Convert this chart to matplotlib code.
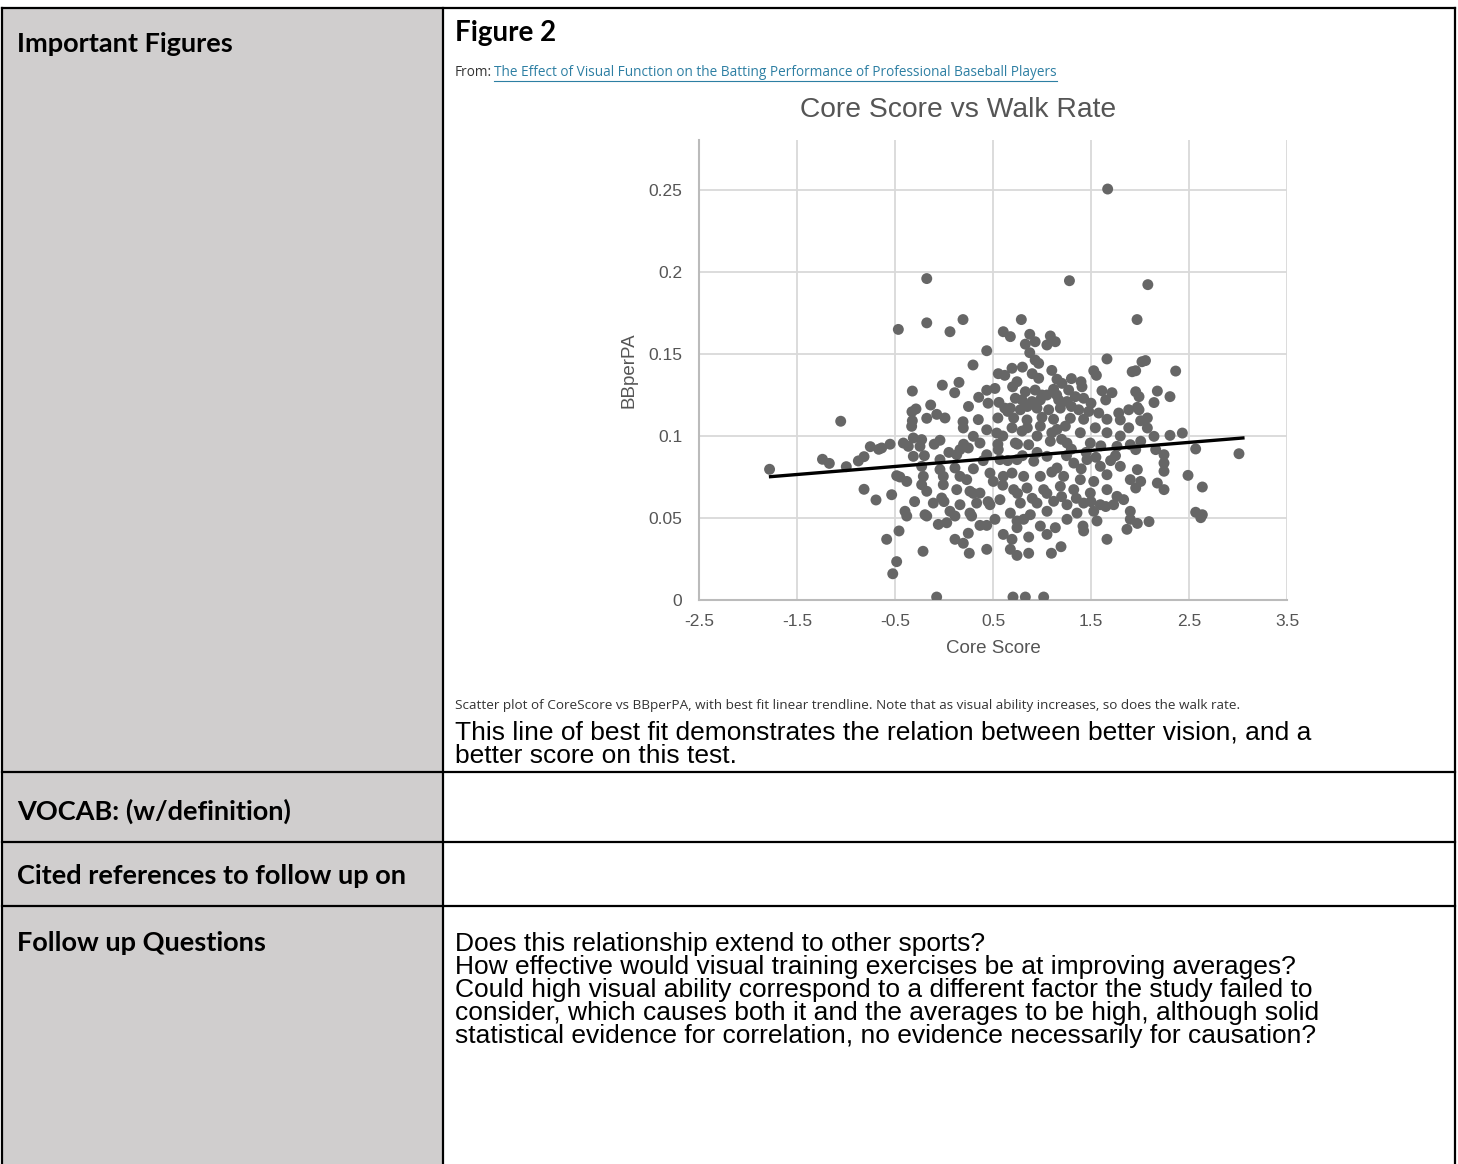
import numpy as np
import matplotlib
matplotlib.use("Agg")
import matplotlib.pyplot as plt
from matplotlib.patches import Rectangle

# scatter points (core score, walks per PA)
core_score = [
    -1.78, -1.054, -1.24, -1.17, -0.997, -0.874, -0.816, -0.752, -0.666, -0.816, -0.694,
    1.67, -0.176, 1.28, 2.08, -0.176, 0.194, 0.789, 1.97, -0.466, 0.061, 0.605,
    0.436, 0.296, 0.554, 0.62, 0.153, -0.017, -0.323, 0.109, 0.436, 0.52, 0.354, 0.561,
    -0.136, -0.286, -0.327, -0.074, -0.176, 0.01, -0.323, 0.62, 0.55, 0.194,
    0.677, 0.875, 1.085, 1.136, 0.83, 0.93, 1.05, 0.875, 0.93, 0.966, 1.663, 0.694,
    1.528, 1.555, 1.92, 0.745, 0.966, 1.153, 1.204, 1.398, 1.408, 1.612, 1.714, 0.83,
    0.93, 1.05, 1.118, 1.272, 1.34, 1.425, 0.728, 0.796, 0.898, 0.983, 1.17, 1.255,
    0.677, 0.779, 0.949, 1.068, 1.187, 1.375, 1.477, 1.579, 1.783, 1.885, 0.711, 0.847,
    1.0, 1.118, 1.289, 1.425, 1.663, 1.799,
    2.02, 2.056, 2.364, 1.956, 1.956, 2.177, 2.306, 1.99, 2.143, 1.973, 1.99, 2.075, 2.007,
    -0.636, -0.415, -0.313, -0.228, -0.245, -0.364, -0.041, -0.313, -0.041, -0.33, 0.163,
    0.13, 0.248, 0.197, 0.299, 0.367, 0.436, 0.538, 0.554, 0.571, 0.436, -0.483, -0.38,
    -0.228, -0.211, -0.228, -0.176, -0.041, -0.007, -0.007, 0.112, 0.163, 0.232, 0.13,
    0.265, 0.367, 0.469, 0.503, 0.605, -0.534, -0.109, -0.024, 0.061, 0.163, 0.333,
    0.469, 0.571, -0.398, -0.194, 0.265,
    0.694, 0.796, 0.983, 1.153, 1.238, 1.391, 1.544, 1.663, 1.799, 1.885, 0.728, 0.864,
    1.085, 1.255, 1.493, 1.765, 1.901, 0.745, 0.916, 1.051, 1.153, 1.324, 1.459, 1.595,
    1.663, 1.799, 1.901, 0.694, 0.813, 0.983, 1.221, 1.391, 1.528, 0.711, 0.847, 1.017,
    1.187, 1.324, 1.493, 1.663, 1.765, 0.779, 0.949, 1.119, 1.255, 1.425, 1.595, 1.731,
    1.833, 0.677, 0.881, 1.051, 1.357, 1.528, 1.901,
    2.075, 2.143, 2.306, 2.432, 2.007, 1.956, 2.16, 2.245, 2.245, 2.245, 2.568, 3.01,
    1.973, 2.007, 2.177, 2.245, 2.49, 2.636, 1.956, 2.568, 2.636,
    -0.38, -0.176, -0.058, 0.028, 0.112, 0.282, 0.367, 0.436, 0.52, 0.605, -0.459,
    -0.585, 0.248, 0.112, 0.197, -0.214, 0.258, 0.436, -0.483, -0.523, -0.075,
    0.745, 0.813, 0.745, 0.983, 1.051, 1.136, 1.255, 1.418, 1.425, 1.561, 1.663, 1.867,
    1.901, 0.694, 0.864, 0.677, 0.745, 0.864, 1.096, 1.194, 0.704, 0.83, 1.017,
    1.973, 2.092, 2.62,
    # dense middle of the cloud
    0.6, 0.75, 0.85, 0.95, 1.1, 1.2, 1.3, 1.45, 1.6, 1.75, 0.65, 0.8, 0.95, 1.1,
    1.25, 1.4, 1.55, 1.7, 0.6, 0.75, 0.9, 1.05, 1.2, 1.35, 1.5, 1.65, 0.65, 0.85,
    1.0, 1.15, 1.3, 1.5, 1.65, 0.7, 0.9, 1.1, 1.3, 0.8, 0.55, 0.4, 0.3, 0.2, 0.05,
    -0.1, -0.2, 0.35, 0.25, 0.45, 0.3, 0.45, 0.0, -0.3, -0.45, -0.55,
]
bb_per_pa = [
    0.0797, 0.109, 0.0858, 0.0833, 0.0813, 0.0848, 0.0874, 0.0935, 0.0919, 0.0675, 0.061,
    0.2506, 0.196, 0.1947, 0.1923, 0.169, 0.171, 0.171, 0.171, 0.165, 0.1636, 0.1636,
    0.152, 0.1433, 0.138, 0.137, 0.1327, 0.131, 0.1274, 0.1264, 0.1279, 0.129, 0.1236, 0.1205,
    0.1189, 0.1165, 0.1148, 0.1132, 0.1108, 0.111, 0.1093, 0.117, 0.111, 0.1087,
    0.1606, 0.162, 0.161, 0.1575, 0.156, 0.1575, 0.1555, 0.1508, 0.1463, 0.1443, 0.147, 0.1413,
    0.1398, 0.137, 0.1392, 0.1331, 0.1352, 0.1346, 0.1321, 0.1331, 0.13, 0.1276, 0.1264, 0.127,
    0.128, 0.125, 0.1285, 0.128, 0.124, 0.123, 0.123, 0.122, 0.121, 0.122, 0.122, 0.121,
    0.117, 0.116, 0.117, 0.116, 0.117, 0.116, 0.115, 0.114, 0.114, 0.116, 0.111, 0.1098,
    0.1114, 0.1102, 0.1108, 0.1102, 0.1102, 0.1098,
    0.1453, 0.146, 0.1396, 0.1398, 0.127, 0.1274, 0.124, 0.124, 0.1204, 0.1175, 0.116, 0.111, 0.1093,
    0.0927, 0.0957, 0.0988, 0.0978, 0.0937, 0.0937, 0.0974, 0.0876, 0.0856, 0.1059, 0.0917,
    0.0886, 0.0927, 0.1049, 0.0998, 0.0957, 0.1038, 0.1018, 0.0917, 0.0856, 0.0886, 0.0758, 0.0723,
    0.0815, 0.0754, 0.0703, 0.0663, 0.0795, 0.0754, 0.0703, 0.0805, 0.0754, 0.0734, 0.0673,
    0.0663, 0.0652, 0.0774, 0.0723, 0.0754, 0.0642, 0.0591, 0.0622, 0.0541, 0.0581, 0.0591,
    0.0581, 0.0612, 0.0541, 0.052, 0.053,
    0.105, 0.103, 0.106, 0.104, 0.106, 0.102, 0.105, 0.102, 0.100, 0.105, 0.0957, 0.0947,
    0.0968, 0.0957, 0.0957, 0.0937, 0.0947, 0.0856, 0.0846, 0.0876, 0.0805, 0.0835, 0.0856, 0.0815,
    0.0764, 0.0815, 0.0734, 0.0774, 0.0754, 0.0754, 0.0754, 0.0734, 0.0723, 0.0673, 0.0683, 0.0673,
    0.0693, 0.0673, 0.0652, 0.0673, 0.0632, 0.0591, 0.0591, 0.0602, 0.0581, 0.0591, 0.0581, 0.0581,
    0.0612, 0.053, 0.052, 0.0541, 0.053, 0.0541, 0.0541,
    0.1049, 0.0998, 0.1004, 0.1018, 0.0968, 0.0917, 0.0917, 0.0886, 0.0835, 0.0785, 0.0921, 0.0892,
    0.0795, 0.0723, 0.0713, 0.0673, 0.076, 0.0689, 0.0683, 0.0535, 0.052,
    0.0512, 0.0512, 0.0461, 0.0471, 0.0512, 0.0512, 0.0455, 0.0455, 0.0492, 0.04, 0.0421,
    0.037, 0.0407, 0.037, 0.0346, 0.0297, 0.0285, 0.0309, 0.0234, 0.016, 0.0018,
    0.0482, 0.0492, 0.0441, 0.0451, 0.04, 0.0441, 0.0492, 0.0451, 0.0421, 0.0482, 0.037, 0.0431,
    0.0492, 0.037, 0.0384, 0.0309, 0.0272, 0.0285, 0.0285, 0.0325, 0.0018, 0.0018, 0.0018,
    0.0467, 0.0478, 0.0502,
    # dense middle of the cloud
    0.1, 0.095, 0.105, 0.1, 0.102, 0.098, 0.092, 0.09, 0.094, 0.088, 0.085, 0.088, 0.09, 0.078,
    0.088, 0.08, 0.087, 0.085, 0.07, 0.065, 0.062, 0.065, 0.063, 0.062, 0.06, 0.057, 0.115, 0.118,
    0.125, 0.125, 0.118, 0.12, 0.122, 0.13, 0.138, 0.14, 0.135, 0.142, 0.095, 0.085, 0.08, 0.095, 0.09,
    0.095, 0.088, 0.11, 0.118, 0.12, 0.065, 0.06, 0.06, 0.06, 0.075, 0.095,
]
# trendline end points
trend_x = [-1.77, 3.05]
trend_y = [0.0752, 0.0988]

xticks = [-2.5, -1.5, -0.5, 0.5, 1.5, 2.5, 3.5]
yticks = [0, 0.05, 0.1, 0.15, 0.2, 0.25]
ytick_labels = ["0", "0.05", "0.1", "0.15", "0.2", "0.25"]

row_labels = ["Important Figures", "VOCAB: (w/definition)",
              "Cited references to follow up on", "Follow up Questions"]
note_lines = ["This line of best fit demonstrates the relation between better vision, and a",
              "better score on this test."]
question_lines = [
    "Does this relationship extend to other sports?",
    "How effective would visual training exercises be at improving averages?",
    "Could high visual ability correspond to a different factor the study failed to",
    "consider, which causes both it and the averages to be high, although solid",
    "statistical evidence for correlation, no evidence necessarily for causation?",
]

W, H = 1458, 1164
fig = plt.figure(figsize=(W / 100, H / 100), dpi=100)

# table drawn in pixel coordinates
tab = fig.add_axes([0, 0, 1, 1])
tab.set_xlim(0, W)
tab.set_ylim(H, 0)
tab.axis("off")

row_edges = [8, 772, 842, 906, 1170]
col_left, col_mid, col_right = 2, 443, 1455
for i in range(4):
    tab.add_patch(Rectangle((col_left, row_edges[i]), col_mid - col_left,
                            row_edges[i + 1] - row_edges[i], facecolor="#d0cece", edgecolor="none"))
for y in row_edges[:4]:
    tab.plot([col_left, col_right], [y, y], color="black", lw=1.6)
for x in [col_left, col_mid, col_right]:
    tab.plot([x, x], [row_edges[0], H], color="black", lw=1.6)

label_y = [44, 811, 876, 943]
for txt, y in zip(row_labels, label_y):
    tab.text(17, y, txt, fontsize=19.5, fontweight="bold", family="Lato", va="center", ha="left")

tab.text(455, 33, "Figure 2", fontsize=20, fontweight="bold", family="Lato", va="center")
tab.text(455, 73, "From:", fontsize=9.8, family="Open Sans", va="center", color="#333333")
link = tab.text(494, 73, "The Effect of Visual Function on the Batting Performance of Professional Baseball Players",
                fontsize=9.8, family="Open Sans", va="center", color="#2d7fa3")
tab.text(958, 110, "Core Score vs Walk Rate", fontsize=20.3, family="Liberation Sans",
         va="center", ha="center", color="#555555")
tab.text(455, 706, "Scatter plot of CoreScore vs BBperPA, with best fit linear trendline. "
         "Note that as visual ability increases, so does the walk rate.",
         fontsize=9.7, family="Open Sans", va="center", color="#333333")
tab.text(455, 744.5, "\n".join(note_lines), fontsize=19, family="Liberation Sans",
         va="center", linespacing=0.96)
tab.text(455, 990, "\n".join(question_lines), fontsize=19, family="Liberation Sans",
         va="center", linespacing=0.96)

# underline of the link, sized to the rendered text
fig.canvas.draw()
bb = link.get_window_extent().transformed(tab.transData.inverted())
tab.plot([bb.x0, bb.x1], [81, 81], color="#2d7fa3", lw=0.8)

# scatter chart
ax = fig.add_axes([699 / W, (H - 600) / H, 588 / W, 460 / H])
ax.set_facecolor("white")
ax.scatter(core_score, bb_per_pa, s=62, color="#666666", edgecolors="none", zorder=3)
ax.plot(trend_x, trend_y, color="black", lw=2.4, zorder=4)
ax.set_xlim(-2.5, 3.5)
ax.set_ylim(0, 0.2805)
ax.set_xticks(xticks)
ax.set_xticklabels([f"{t:g}" for t in xticks])
ax.set_yticks(yticks)
ax.set_yticklabels(ytick_labels)
ax.grid(True, color="#d9d9d9", lw=1.3)
ax.set_axisbelow(True)
for s in ["top", "right"]:
    ax.spines[s].set_visible(False)
for s in ["left", "bottom"]:
    ax.spines[s].set_color("#bbbbbb")
    ax.spines[s].set_linewidth(1.5)
ax.tick_params(length=0, labelsize=12.5, labelcolor="#555555")
ax.tick_params(axis="y", pad=12)
ax.tick_params(axis="x", pad=10)
for lab in ax.get_xticklabels() + ax.get_yticklabels():
    lab.set_family("Liberation Sans")
ax.set_xlabel("Core Score", fontsize=13.5, color="#555555", family="Liberation Sans", labelpad=8)
ax.set_ylabel("BBperPA", fontsize=13.5, color="#555555", family="Liberation Sans", labelpad=8)

fig.savefig("out.png", dpi=100)
